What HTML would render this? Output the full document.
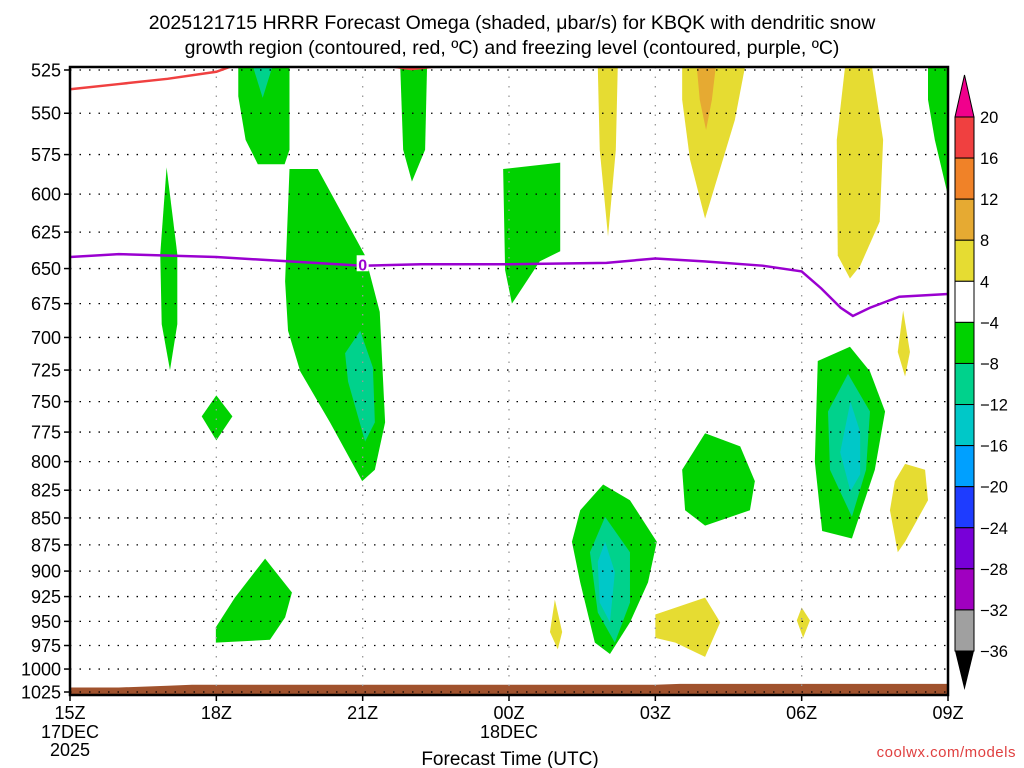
<!DOCTYPE html>
<html><head><meta charset="utf-8"><style>
body{margin:0;background:#fff;width:1024px;height:768px;overflow:hidden}
svg{display:block;font-family:"Liberation Sans","DejaVu Sans",sans-serif}
</style></head><body>
<svg id="chart" width="1024" height="768" viewBox="0 0 1024 768">
<g font-size="19.5" text-anchor="middle" fill="#000">
<text x="512" y="29">2025121715 HRRR Forecast Omega (shaded, μbar/s) for KBQK with dendritic snow</text>
<text x="512" y="54">growth region (contoured, red, ºC) and freezing level (contoured, purple, ºC)</text>
</g>
<g id="fills"></g>
<g id="grid"></g>
<g id="lines"></g>
<g id="axes"></g>
<g id="cbar"></g>
<text x="510" y="765" font-size="19" text-anchor="middle">Forecast Time (UTC)</text>
<text x="1016" y="757" font-size="15" text-anchor="end" fill="#e04040" letter-spacing="0.5">coolwx.com/models</text>
</svg>
<script>
const pressureTicks=[525,550,575,600,625,650,675,700,725,750,775,800,825,850,875,900,925,950,975,1000,1025];
const timeTicks=[0,3,6,9,12,15,18];
const timeLabels=["15Z","18Z","21Z","00Z","03Z","06Z","09Z"];
const cbarLevels=[20,16,12,8,4,-4,-8,-12,-16,-20,-24,-28,-32,-36];
const cbarColors=["#f04040","#f08228","#e6aa32","#e6dc32","#ffffff","#00d200","#00d28c","#00c8c8","#00a0ff","#1e3cff","#7800d8","#a000c0","#a0a0a0"];
// omega regions: [hour, pressure]
const gTop=[[3.45,523],[4.5,523],[4.5,572],[4.4,581],[3.85,581],[3.6,566],[3.45,540]];
const tTop=[[3.75,523],[4.15,523],[3.95,541]];
const g17=[[1.98,583],[2.2,640],[2.2,690],[2.05,725],[1.88,690],[1.85,640]];
const gDia=[[3.0,745],[3.33,762],[3.0,782],[2.7,762]];
const gBig=[[4.5,584],[5.08,584],[6.05,641],[6.35,681],[6.46,767],[6.25,807],[5.99,817],[5.33,767],[4.72,726],[4.47,695],[4.41,659]];
const tBig=[[5.95,695],[6.21,723],[6.25,767],[6.05,783],[5.7,734],[5.64,712]];
const g22=[[6.77,523],[7.32,523],[7.28,572],[7.01,592],[6.83,572]];
const g00=[[8.88,584],[10.05,580],[10.05,638],[9.63,645],[9.06,675],[8.92,651]];
const y02=[[10.82,523],[11.23,523],[11.19,572],[11.03,628],[10.86,572]];
const y04=[[12.55,523],[13.84,523],[13.63,554],[13.02,616],[12.71,578],[12.55,542]];
const o04=[[12.85,523],[13.24,523],[13.16,542],[13.04,560],[12.91,542]];
const y07=[[15.89,523],[16.44,523],[16.67,566],[16.6,618],[16.2,648],[15.99,657],[15.74,641],[15.72,566]];
const gTR=[[17.59,523],[18.0,523],[18.0,601],[17.73,566],[17.59,542]];
const g06=[[15.33,718],[15.99,707],[16.4,726],[16.71,758],[16.5,807],[16.03,869],[15.42,862],[15.27,800]];
const t06=[[15.95,728],[16.4,758],[16.32,807],[16.03,849],[15.58,807],[15.54,758]];
const c06=[[16.0,750],[16.2,775],[16.2,811],[16.0,826],[15.79,792]];
const y08a=[[17.08,680],[17.22,711],[17.12,730],[16.97,711]];
const y08b=[[17.12,802],[17.53,807],[17.59,834],[17.12,872],[16.97,882],[16.81,843],[16.91,817]];
const g04=[[13.02,776],[13.74,787],[14.04,817],[13.94,843],[13.02,857],[12.61,843],[12.55,807]];
const g02=[[10.93,820],[11.48,834],[12.03,872],[11.85,911],[11.48,951],[11.07,984],[10.76,972],[10.46,911],[10.29,872],[10.46,843]];
const t02=[[10.97,849],[11.48,882],[11.48,931],[11.17,972],[10.82,941],[10.66,882]];
const c02=[[10.97,872],[11.17,901],[11.07,951],[10.86,931],[10.82,891]];
const g18=[[4.0,888],[4.55,921],[4.41,946],[4.1,969],[2.99,972],[2.99,956],[3.38,926]];
const y01=[[9.94,928],[10.09,961],[10.0,979],[9.84,961]];
const y04b=[[12.0,943],[13.02,926],[13.33,951],[13.02,987],[12.41,972],[12.0,967]];
const y06=[[15.0,936],[15.17,949],[15.03,967],[14.9,949]];
const regions=[[gTop,"#00d200"],[tTop,"#00d28c"],[g17,"#00d200"],[gDia,"#00d200"],[gBig,"#00d200"],[tBig,"#00d28c"],[g22,"#00d200"],[g00,"#00d200"],[y02,"#e6dc32"],[y04,"#e6dc32"],[o04,"#e6aa32"],[y07,"#e6dc32"],[gTR,"#00d200"],[g06,"#00d200"],[t06,"#00d28c"],[c06,"#00c8c8"],[y08a,"#e6dc32"],[y08b,"#e6dc32"],[g04,"#00d200"],[g02,"#00d200"],[t02,"#00d28c"],[c02,"#00c8c8"],[g18,"#00d200"],[y01,"#e6dc32"],[y04b,"#e6dc32"],[y06,"#e6dc32"]];
const freezeHours=[0,1,3,4.5,6,7.2,9,11,12,13,14.2,15,15.4,15.8,16.05,16.4,17,18];
const freezeP=[642,640,642,645,648,647,647,646,643,645,648,652,664,678,684,678,670,668];
const dgzHours=[0,1,2,3,3.3];
const dgzP=[536,533,530,526,523];
const dgz2Hours=[6.6,7.0,7.5];
const dgz2P=[523,524.5,523];
const groundHours=[0,1,2,2.5,3,12,12.5,18];
const groundP=[1030,1030,1028,1027,1027,1027,1026,1026];

const NS="http://www.w3.org/2000/svg";
const L=70,R=948,T=67,B=695;
const lnA=Math.log(525),lnB=Math.log(1025);
function X(h){return L+h*(R-L)/18;}
function Y(p){return 70+(Math.log(p)-lnA)/(lnB-lnA)*622;}
function mk(tag,attrs,parent){const e=document.createElementNS(NS,tag);for(const k in attrs)e.setAttribute(k,attrs[k]);parent.appendChild(e);return e;}
const fills=document.getElementById('fills'),grid=document.getElementById('grid'),lines=document.getElementById('lines'),axes=document.getElementById('axes'),cbar=document.getElementById('cbar');
mk('clipPath',{id:'pc'},fills);
document.getElementById('pc').appendChild(document.createElementNS(NS,'rect'));
const cr=document.querySelector('#pc rect');cr.setAttribute('x',L);cr.setAttribute('y',T);cr.setAttribute('width',R-L);cr.setAttribute('height',B-T);
fills.setAttribute('clip-path','url(#pc)');
lines.setAttribute('clip-path','url(#pc)');
regions.forEach(([pts,c])=>{
  const e=mk('polygon',{points:pts.map(q=>X(q[0])+','+Y(q[1])).join(' '),fill:c},fills);
  
  
});
// ground
let gp=groundHours.map((h,i)=>X(h)+','+(Y(groundP[i])-9)).join(' ')+' '+X(18)+','+B+' '+X(0)+','+B;
const gr=mk('polygon',{points:gp,fill:'#a0522d'},fills);


// grid
pressureTicks.forEach(p=>{
  const e=mk('line',{x1:L,x2:R,y1:Y(p),y2:Y(p),stroke:'#000','stroke-width':1.3,'stroke-dasharray':'1.5 8'},grid);
  
  
});
timeTicks.slice(1,-1).forEach(h=>{
  const e=mk('line',{x1:X(h),x2:X(h),y1:T,y2:B,stroke:'#999','stroke-width':1.3,'stroke-dasharray':'1.5 8'},grid);
  
  
});
// lines
const fl=mk('polyline',{points:freezeHours.map((h,i)=>X(h)+','+Y(freezeP[i])).join(' '),fill:'none',stroke:'#9a00d0','stroke-width':2.5},lines);


const dl=mk('polyline',{points:dgzHours.map((h,i)=>X(h)+','+Y(dgzP[i])).join(' ')+' '+X(4.6)+','+Y(523),fill:'none',stroke:'#f04040','stroke-width':2.5},lines);


const dl2=mk('polyline',{points:dgz2Hours.map((h,i)=>X(h)+','+Y(dgz2P[i])).join(' '),fill:'none',stroke:'#f04040','stroke-width':2.5},lines);


const zl=mk('rect',{x:X(6)-6,y:Y(647)-9,width:12,height:16,fill:'#fff'},lines);


const zt=mk('text',{x:X(6),y:Y(647)+6,'font-size':16,'font-weight':'bold','text-anchor':'middle',fill:'#9a00d0'},lines);
zt.textContent='0';


// axes frame
const fr=mk('rect',{x:L,y:T,width:R-L,height:B-T,fill:'none',stroke:'#000','stroke-width':2.5},axes);


mk('line',{x1:R,x2:R,y1:T,y2:B,stroke:'#000','stroke-width':1,'stroke-dasharray':'2 2'},axes);
pressureTicks.forEach(p=>{
  mk('line',{x1:L-6,x2:L,y1:Y(p),y2:Y(p),stroke:'#000','stroke-width':1.5},axes);
  const t=mk('text',{x:L-9,y:Y(p)+6.5,'font-size':18,'text-anchor':'end'},axes);
  t.textContent=p;
  
  
});
timeTicks.forEach((h,i)=>{
  mk('line',{x1:X(h),x2:X(h),y1:B,y2:B+6,stroke:'#000','stroke-width':1.5},axes);
  const t=mk('text',{x:X(h),y:719,'font-size':18,'text-anchor':'middle'},axes);
  t.textContent=timeLabels[i];
  
  
});
[["17DEC",70,738],["2025",70,756],["18DEC",509,738]].forEach(a=>{
  const t=mk('text',{x:a[1],y:a[2],'font-size':18,'text-anchor':'middle'},axes);
  t.textContent=a[0];
  
  
});
// colorbar
const cx=955,cw=19,cy0=117,step=(651-117)/(cbarLevels.length-1);
const up=mk('polygon',{points:`${cx},${cy0} ${cx+cw},${cy0} ${cx+cw/2},75`,fill:'#f0008c',stroke:'#000'},cbar);


cbarColors.forEach((c,i)=>{
  const r=mk('rect',{x:cx,y:cy0+i*step,width:cw,height:step,fill:c,stroke:'#000','stroke-width':1},cbar);
  
  
});
const dn=mk('polygon',{points:`${cx},651 ${cx+cw},651 ${cx+cw/2},690`,fill:'#000'},cbar);


cbarLevels.forEach((v,i)=>{
  const t=mk('text',{x:980,y:cy0+i*step+6,'font-size':16.5},cbar);
  t.textContent=v<0?'\u2212'+(-v):String(v);
  
  
});
</script>
</body></html>
